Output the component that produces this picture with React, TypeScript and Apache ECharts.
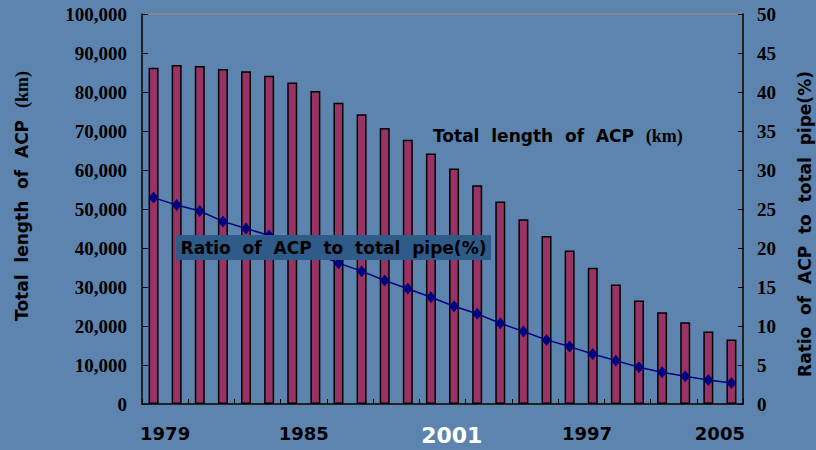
import React, { useEffect, useRef } from 'react';
import * as echarts from 'echarts';

// Annual figures for asbestos-cement pipe (ACP)
const years = [
  '1980', '1981', '1982', '1983', '1984', '1985', '1986', '1987', '1988',
  '1989', '1990', '1991', '1992', '1993', '1994', '1995', '1996', '1997',
  '1998', '1999', '2000', '2001', '2002', '2003', '2004', '2005',
];
const acpLengthKm = [
  86200, 86900, 86650, 85900, 85300, 84150, 82450, 80250, 77220, 74300,
  70800, 67750, 64220, 60360, 56080, 51900, 47340, 43050, 39380, 34930,
  30650, 26540, 23530, 20960, 18570, 16520,
];
const acpRatioPct = [
  26.46, 25.5, 24.74, 23.41, 22.51, 21.6, 20.5, 19.3, 18.06, 17.03,
  15.84, 14.77, 13.69, 12.54, 11.56, 10.35, 9.29, 8.22, 7.36, 6.42,
  5.56, 4.7, 4.06, 3.55, 3.08, 2.7,
];

// Year captions under the axis and where they sit (in category widths)
const yearTickLabels = ['1979', '1985', '2001', '1997', '2005'];
const yearTickAt = [1, 7, 13.4, 19.25, 25];
const highlightedYear = '2001';

const leftTitle = 'Total  length  of  ACP  ';
const leftTitleUnit = '(km)';
const rightTitle = 'Ratio  of  ACP  to  total  pipe(%)';
const lengthCaption = 'Total  length  of  ACP  ';
const ratioCaption = 'Ratio  of  ACP  to  total  pipe(%)';

const SANS = "'DejaVu Sans', sans-serif";
const SERIF = "'Liberation Serif', 'Times New Roman', 'DejaVu Serif', serif";

export default function App() {
  const ref = useRef<HTMLDivElement>(null);

  useEffect(() => {
    if (!ref.current) return;
    const chart = echarts.init(ref.current, null, { renderer: 'svg' });

    const option: echarts.EChartsOption = {
      animation: false,
      backgroundColor: '#5d84af',
      grid: {
        left: 142,
        right: 73,
        top: 14,
        bottom: 46,
        show: true,
        borderColor: '#a38d6f',
        borderWidth: 1,
        backgroundColor: 'transparent',
      },
      xAxis: [
        {
          type: 'category',
          data: years,
          boundaryGap: true,
          axisLine: { lineStyle: { color: '#000', width: 1.5 } },
          axisTick: { show: true, inside: true, length: 5, lineStyle: { color: '#000', width: 1 } },
          axisLabel: { show: false },
          splitLine: { show: false },
        },
        {
          type: 'value',
          position: 'bottom',
          min: 0,
          max: years.length,
          axisLine: { show: false },
          axisTick: { show: false },
          splitLine: { show: false },
          axisLabel: {
            customValues: yearTickAt,
            margin: 20,
            formatter: (v: number) => {
              const i = yearTickAt.findIndex((p) => Math.abs(p - v) < 1e-6);
              if (i < 0) return '';
              const t = yearTickLabels[i];
              return t === highlightedYear ? `{w|${t}}` : `{k|${t}}`;
            },
            rich: {
              k: { fontFamily: SANS, fontWeight: 'bold', fontSize: 18, color: '#000' },
              w: { fontFamily: SANS, fontWeight: 'bold', fontSize: 22, color: '#fff' },
            },
          },
        } as any,
      ],
      yAxis: [
        {
          type: 'value',
          min: 0,
          max: 100000,
          interval: 10000,
          axisLine: { show: true, lineStyle: { color: '#000', width: 1.5 } },
          axisTick: { show: true, inside: true, length: 6, lineStyle: { color: '#000', width: 1 } },
          splitLine: { show: false },
          axisLabel: {
            margin: 15,
            fontFamily: SERIF,
            fontWeight: 'bold',
            fontSize: 19,
            color: '#000',
            formatter: (v: number) => v.toLocaleString('en-US'),
          },
        },
        {
          type: 'value',
          min: 0,
          max: 50,
          interval: 5,
          position: 'right',
          axisLine: { show: true, lineStyle: { color: '#000', width: 1.5 } },
          axisTick: { show: true, inside: true, length: 5, lineStyle: { color: '#000', width: 1 } },
          splitLine: { show: false },
          axisLabel: {
            margin: 14,
            fontFamily: SERIF,
            fontWeight: 'bold',
            fontSize: 19,
            color: '#000',
          },
        },
      ],
      series: [
        {
          name: 'Total length of ACP (km)',
          type: 'bar',
          xAxisIndex: 0,
          yAxisIndex: 0,
          data: acpLengthKm,
          barWidth: 10,
          itemStyle: { color: '#993366', borderColor: '#000', borderWidth: 1.5 },
          z: 2,
        },
        {
          name: 'Ratio of ACP to total pipe(%)',
          type: 'line',
          xAxisIndex: 0,
          yAxisIndex: 1,
          data: acpRatioPct,
          symbol: 'diamond',
          symbolSize: [10, 12],
          lineStyle: { color: '#000080', width: 1.5 },
          itemStyle: { color: '#000080' },
          z: 3,
        },
      ],
      graphic: [
        {
          type: 'text',
          x: 22,
          y: 196,
          rotation: Math.PI / 2,
          style: {
            text: `{s|${leftTitle}}{r|${leftTitleUnit}}`,
            align: 'center',
            verticalAlign: 'middle',
            rich: {
              s: { fontFamily: SANS, fontWeight: 'bold', fontSize: 17, fill: '#000' },
              r: { fontFamily: SERIF, fontWeight: 'bold', fontSize: 18, fill: '#000' },
            },
          } as any,
        },
        {
          type: 'text',
          x: 805,
          y: 224,
          rotation: Math.PI / 2,
          style: {
            text: rightTitle,
            align: 'center',
            verticalAlign: 'middle',
            fontFamily: SANS,
            fontWeight: 'bold',
            fontSize: 17,
            fill: '#000',
          },
        },
        {
          type: 'text',
          x: 433,
          y: 136,
          z: 10,
          style: {
            text: `{s|${lengthCaption}}{r|${leftTitleUnit}}`,
            align: 'left',
            verticalAlign: 'middle',
            rich: {
              s: { fontFamily: SANS, fontWeight: 'bold', fontSize: 17, fill: '#000' },
              r: { fontFamily: SERIF, fontWeight: 'bold', fontSize: 18, fill: '#000' },
            },
          } as any,
        },
        {
          type: 'rect',
          z: 10,
          shape: { x: 176, y: 235, width: 315, height: 25 },
          style: { fill: '#2e5b88' },
        },
        {
          type: 'text',
          x: 333.5,
          y: 248,
          z: 11,
          style: {
            text: ratioCaption,
            align: 'center',
            verticalAlign: 'middle',
            fontFamily: SANS,
            fontWeight: 'bold',
            fontSize: 17,
            fill: '#000',
          },
        },
      ],
    };

    chart.setOption(option);
    return () => chart.dispose();
  }, []);

  return (
    <div
      ref={ref}
      style={{ position: 'fixed', left: 0, top: 0, width: 816, height: 450 }}
    />
  );
}
